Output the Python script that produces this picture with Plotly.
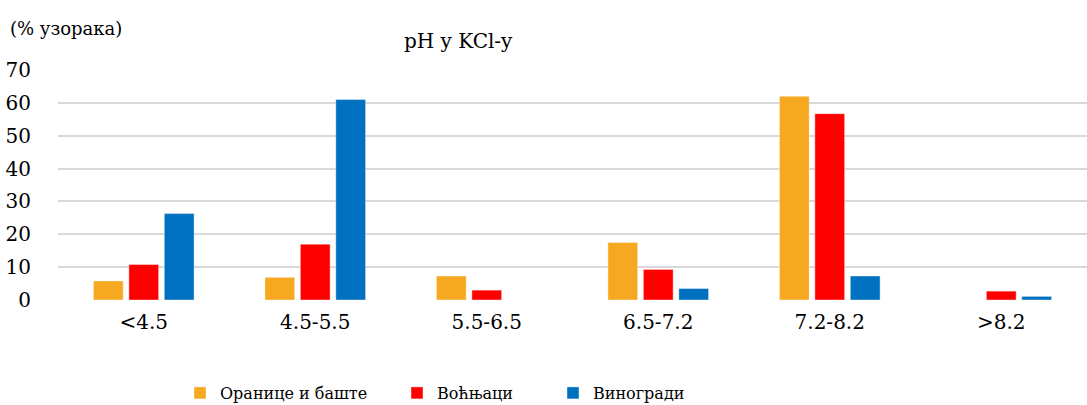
import plotly.graph_objects as go

categories = ["<4.5", "4.5-5.5", "5.5-6.5", "6.5-7.2", "7.2-8.2", ">8.2"]
oranice = [5.8, 6.9, 7.3, 17.5, 62.0, 0]
vocnjaci = [10.8, 17.0, 3.0, 9.3, 56.7, 2.7]
vinogradi = [26.3, 61.0, 0, 3.5, 7.3, 1.1]
y_ticks = [0, 10, 20, 30, 40, 50, 60, 70]

series_names = ["Оранице и баште", "Воћњаци", "Виногради"]
colors = ["#F5A820", "#FF0000", "#0070C0"]
legend_ids = ["legend", "legend2", "legend3"]

FONT = "DejaVu Serif"

fig = go.Figure()
for name, vals, col, lg in zip(series_names, [oranice, vocnjaci, vinogradi], colors, legend_ids):
    fig.add_trace(go.Bar(
        x=categories, y=vals, name=name, legend=lg, showlegend=True,
        marker=dict(color=col, line=dict(color="rgba(255,255,255,0.4)", width=1)),
    ))

W, H = 1087, 405
L, R, T, B = 58, 0, 70, 105
pw = W - L - R
ph = H - T - B

def px_x(px):
    return (px - L) / pw

def px_y(py):
    return (H - B - py) / ph

legend_common = dict(orientation="h", xanchor="left", yanchor="middle",
                     font=dict(family=FONT, size=16, color="#000000"),
                     bgcolor="rgba(0,0,0,0)", borderwidth=0, itemwidth=30)

fig.update_layout(
    width=W, height=H,
    margin=dict(l=L, r=R, t=T, b=B, pad=0, autoexpand=False),
    paper_bgcolor="white", plot_bgcolor="white",
    showlegend=True,
    barmode="group", bargap=0.38, bargroupgap=0.16,
    font=dict(family=FONT, size=19, color="#000000"),
    legend=dict(x=px_x(180), y=px_y(393), **legend_common),
    legend2=dict(x=px_x(397), y=px_y(393), **legend_common),
    legend3=dict(x=px_x(553), y=px_y(393), **legend_common),
    xaxis=dict(range=[-0.5, 5.5], showgrid=False, showline=False, zeroline=False,
               ticks="", tickfont=dict(family=FONT, size=20, color="#000000"),
               ticklabelstandoff=8, fixedrange=True, automargin=False),
    yaxis=dict(range=[0, 70], tickvals=y_ticks, showgrid=True, gridcolor="#D9D9D9",
               gridwidth=1.6, zeroline=False, showline=False, ticks="",
               tickfont=dict(family=FONT, size=20, color="#000000"),
               ticklabelstandoff=26, fixedrange=True, automargin=False),
    annotations=[
        dict(text="pH y KCl-y", x=px_x(458), y=px_y(41), xref="paper", yref="paper",
             xanchor="center", yanchor="middle", showarrow=False,
             font=dict(family=FONT, size=20, color="#000000")),
        dict(text="(% узорака)", x=px_x(8), y=px_y(29), xref="paper", yref="paper",
             xanchor="left", yanchor="middle", showarrow=False,
             font=dict(family=FONT, size=18, color="#000000")),
    ],
)

fig.write_html("out.html", config={"displayModeBar": False},
               post_script="document.body.style.margin='0';document.body.style.padding='0';")
